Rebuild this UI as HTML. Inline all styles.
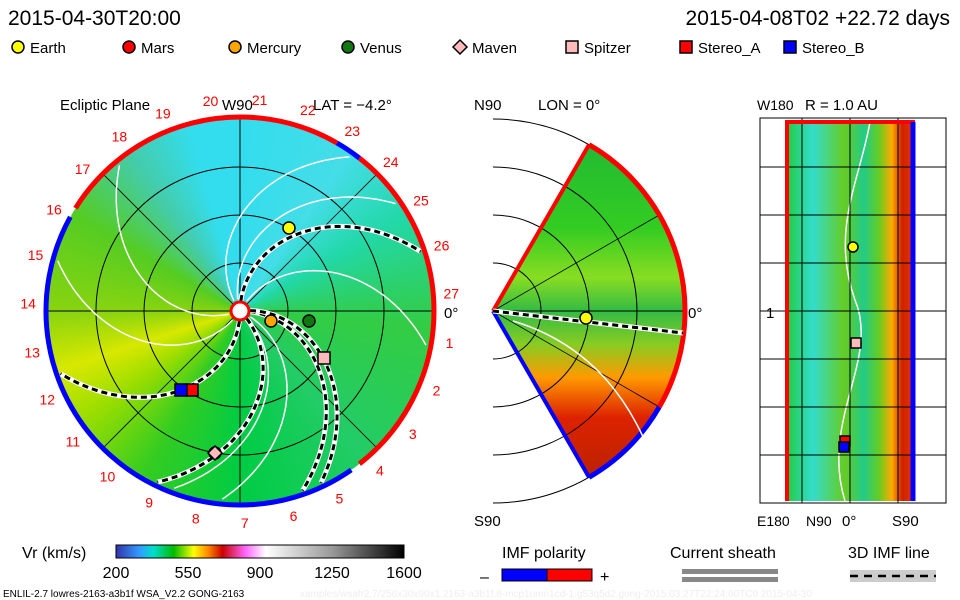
<!DOCTYPE html>
<html><head><meta charset="utf-8"><style>
body{margin:0;background:#fff;width:960px;height:600px;overflow:hidden;font-family:"Liberation Sans",sans-serif}
svg text{font-family:"Liberation Sans",sans-serif}
</style></head><body>
<div style="position:absolute;left:46px;top:117px;width:388px;height:388px;border-radius:50%;background:conic-gradient(from 0deg,#33ddee 0deg,#44dde8 35deg,#22d8a8 60deg,#33cc44 95deg,#22cc66 140deg,#00cc44 180deg,#33cc22 210deg,#99dd00 235deg,#d8e800 252deg,#88d410 270deg,#55cc22 300deg,#44ccaa 325deg,#33ddee 345deg,#33ddee 360deg)"></div>
<svg width="960" height="600" style="position:absolute;left:0;top:0">
<script>
const planetNames=["Earth","Mars","Mercury","Venus","Maven","Spitzer","Stereo_A","Stereo_B"];
const planetColors=["#ffff00","#ff0000","#ffa500","#117711","#ffbbbb","#ffbbbb","#ff0000","#0000ff"];
const planetShapes=["circle","circle","circle","circle","diamond","square","square","square"];
const eclX=[289,215,271,309,215,324,192,181];
const eclY=[228,453,321,321,453,358,390,390];
const tickLabels=["1","2","3","4","5","6","7","8","9","10","11","12","13","14","15","16","17","18","19","20","21","22","23","24","25","26","27"];
const cbTicks=["200","550","900","1250","1600"];
</script>
<text x="8" y="25" font-size="21">2015-04-30T20:00</text>
<text x="950" y="25" font-size="21" text-anchor="end">2015-04-08T02 +22.72 days</text>
<g id="legend" font-size="15"></g>
<text x="60" y="110" font-size="15">Ecliptic Plane</text>
<text x="222" y="110" font-size="15">W90</text>
<text x="313" y="110" font-size="15">LAT = −4.2°</text>
<text x="474" y="110" font-size="15">N90</text>
<text x="538" y="110" font-size="15">LON = 0°</text>
<text x="757" y="110" font-size="14">W180</text>
<text x="805" y="110" font-size="15">R = 1.0 AU</text>
<g id="ecl"></g>
<defs>
<linearGradient id="mg" x1="0" y1="0" x2="0" y2="1">
<stop offset="0" stop-color="#22bb33"/><stop offset="0.25" stop-color="#33cc22"/><stop offset="0.4" stop-color="#88dd22"/><stop offset="0.5" stop-color="#33bb44"/><stop offset="0.6" stop-color="#88cc22"/><stop offset="0.7" stop-color="#ff9900"/><stop offset="0.82" stop-color="#dd2200"/><stop offset="1" stop-color="#bb2200"/></linearGradient>
<linearGradient id="rg" x1="0" y1="0" x2="1" y2="0">
<stop offset="0" stop-color="#22cc44"/><stop offset="0.2" stop-color="#33ddcc"/><stop offset="0.45" stop-color="#66cc22"/><stop offset="0.6" stop-color="#22cc88"/><stop offset="0.72" stop-color="#66cc22"/><stop offset="0.82" stop-color="#ffaa00"/><stop offset="0.9" stop-color="#cc2200"/><stop offset="1" stop-color="#ee3300"/></linearGradient>
<linearGradient id="cb" x1="0" y1="0" x2="1" y2="0">
<stop offset="0" stop-color="#3333aa"/><stop offset="0.08" stop-color="#3399ff"/><stop offset="0.13" stop-color="#00ddcc"/><stop offset="0.2" stop-color="#00bb00"/><stop offset="0.27" stop-color="#ffff00"/><stop offset="0.32" stop-color="#ff8800"/><stop offset="0.37" stop-color="#cc0000"/><stop offset="0.45" stop-color="#ff66ff"/><stop offset="0.52" stop-color="#ffffff"/><stop offset="0.75" stop-color="#999999"/><stop offset="1" stop-color="#000000"/></linearGradient>
</defs>
<g id="mer"></g>
<text x="474" y="526" font-size="15">S90</text>
<text x="688" y="318" font-size="15">0°</text>
<g id="rp"></g>
<text x="757" y="526" font-size="14">E180</text>
<text x="806" y="526" font-size="14">N90</text>
<text x="842" y="526" font-size="15">0°</text>
<text x="892" y="526" font-size="15">S90</text>
<text x="766" y="318" font-size="15">1</text>
<text x="22" y="558" font-size="16">Vr (km/s)</text>
<rect x="116" y="545" width="288" height="13" fill="url(#cb)" stroke="#000"/>
<g id="cbt" font-size="16"></g>
<text x="502" y="558" font-size="16">IMF polarity</text>
<text x="480" y="582" font-size="16">–</text>
<rect x="502" y="569" width="45" height="12" fill="#0000ff" stroke="#000"/>
<rect x="547" y="569" width="45" height="12" fill="#ff0000" stroke="#000"/>
<text x="600" y="582" font-size="16">+</text>
<text x="670" y="558" font-size="16">Current sheath</text>
<rect x="682" y="569" width="96" height="5" fill="#888"/>
<rect x="682" y="577" width="96" height="5" fill="#888"/>
<text x="848" y="558" font-size="16">3D IMF line</text>
<rect x="850" y="570" width="86" height="12" fill="#ccc"/>
<line x1="850" y1="576" x2="936" y2="576" stroke="#000" stroke-width="2.5" stroke-dasharray="8 6"/>
<text x="3" y="597" font-size="10">ENLIL-2.7 lowres-2163-a3b1f WSA_V2.2 GONG-2163</text>
<text x="300" y="597" font-size="10" fill="#eee">xamples/wsafr2.7/256x30x90x1.2163-a3b1f.8-mcp1umn1cd-1.g53q5d2.gong-2015:03:27T22:24:00TC0    2015-04-30</text>
</svg>
<script>
const NS="http://www.w3.org/2000/svg";
function mk(p,tag,a){const e=document.createElementNS(NS,tag);for(const k in a)e.setAttribute(k,a[k]);p.appendChild(e);return e;}
function marker(p,shape,x,y,c,s){
 if(shape==="circle")return mk(p,"circle",{cx:x,cy:y,r:s,fill:c,stroke:"#000","stroke-width":1.5});
 if(shape==="square")return mk(p,"rect",{x:x-s,y:y-s,width:2*s,height:2*s,fill:c,stroke:"#000","stroke-width":1.5});
 return mk(p,"polygon",{points:`${x},${y-s-1} ${x+s+1},${y} ${x},${y+s+1} ${x-s-1},${y}`,fill:c,stroke:"#000","stroke-width":1.5});
}
const lg=document.getElementById("legend");
const lx=[18,129,235,348,460,572,686,790];
planetNames.forEach((n,i)=>{
 const m=marker(lg,planetShapes[i],lx[i],47,planetColors[i],6);
 
 
 const t=mk(lg,"text",{x:lx[i]+12,y:53});t.textContent=n;
 
 
});
const E=document.getElementById("ecl"),cx=240,cy=311,R=194;
[48,96,144].forEach(r=>mk(E,"circle",{cx,cy,r,fill:"none",stroke:"#000","stroke-width":1}));
mk(E,"line",{x1:cx-R,y1:cy,x2:cx+R,y2:cy,stroke:"#000"});
mk(E,"line",{x1:cx,y1:cy-R,x2:cx,y2:cy+R,stroke:"#000"});
const d=R*0.707;
mk(E,"line",{x1:cx-d,y1:cy-d,x2:cx+d,y2:cy+d,stroke:"#000","stroke-width":0.8});
mk(E,"line",{x1:cx-d,y1:cy+d,x2:cx+d,y2:cy-d,stroke:"#000","stroke-width":0.8});
const K=0.0065;
function spiral(a0,r0,r1){let s="";for(let r=r0;r<=r1;r+=3){const a=a0+r*K;s+=(s?"L":"M")+(cx+r*Math.cos(a)).toFixed(1)+","+(cy+r*Math.sin(a)).toFixed(1);}return s;}
const rad=x=>x*Math.PI/180;
[-125,-105,-60,125,25,40,160].forEach(a=>{const p=mk(E,"path",{d:spiral(rad(a),12,R-4),fill:"none",stroke:"#fff","stroke-width":1.5});});
[-89,90,45,0,-6].forEach(a=>{const dd=spiral(rad(a),10,R-4);mk(E,"path",{d:dd,fill:"none",stroke:"#fff","stroke-width":5});const p=mk(E,"path",{d:dd,fill:"none",stroke:"#000","stroke-width":3,"stroke-dasharray":"6 4"});});
function arc(a1,a2,col){const p1=[cx+R*Math.cos(-a1*Math.PI/180),cy+R*Math.sin(-a1*Math.PI/180)],p2=[cx+R*Math.cos(-a2*Math.PI/180),cy+R*Math.sin(-a2*Math.PI/180)];const large=(a2-a1)>180?1:0;return mk(E,"path",{d:`M${p1[0]},${p1[1]} A${R},${R} 0 ${large} 0 ${p2[0]},${p2[1]}`,fill:"none",stroke:col,"stroke-width":5});}
arc(-52,52,"#ff0000");arc(52,60,"#0000ff");arc(60,148,"#ff0000");arc(151,305,"#0000ff");
mk(E,"circle",{cx,cy,r:9,fill:"#fff",stroke:"#ff0000","stroke-width":3});
tickLabels.forEach((t,i)=>{const n=i+1;const a=(98-(n-20)*13.33)*Math.PI/180;const r=R+18;const e=mk(E,"text",{x:cx+r*Math.cos(a),y:cy-r*Math.sin(a)+5,fill:"#ff0000","font-size":14,"text-anchor":"middle"});e.textContent=t;});
const z=mk(E,"text",{x:444,y:318,"font-size":15});z.textContent="0°";
planetNames.forEach((n,i)=>{const m=marker(E,planetShapes[i],eclX[i],eclY[i],planetColors[i],6);});
const M=document.getElementById("mer"),mx=493,my=311,MR=192;
function pt(deg,r){const a=rad(deg);return [mx+r*Math.cos(a),my-r*Math.sin(a)];}
const t1=pt(60,MR),b1=pt(-60,MR);
mk(M,"path",{d:`M${mx},${my} L${t1[0]},${t1[1]} A${MR},${MR} 0 0 1 ${b1[0]},${b1[1]} Z`,fill:"url(#mg)"});
[48,96,144,192].forEach(r=>mk(M,"path",{d:`M${mx},${my-r} A${r},${r} 0 0 1 ${mx},${my+r}`,fill:"none",stroke:"#000"}));
mk(M,"line",{x1:mx,y1:my,x2:mx+MR,y2:my,stroke:"#000"});
[30,-30].forEach(a=>{const p=pt(a,MR);mk(M,"line",{x1:mx,y1:my,x2:p[0],y2:p[1],stroke:"#000","stroke-width":0.8});});
const r28=pt(-30,MR);
mk(M,"path",{d:`M${t1[0]},${t1[1]} A${MR},${MR} 0 0 1 ${r28[0]},${r28[1]}`,fill:"none",stroke:"#ff0000","stroke-width":5});
mk(M,"path",{d:`M${r28[0]},${r28[1]} A${MR},${MR} 0 0 1 ${b1[0]},${b1[1]}`,fill:"none",stroke:"#0000ff","stroke-width":5});
mk(M,"line",{x1:mx,y1:my,x2:t1[0],y2:t1[1],stroke:"#ff0000","stroke-width":4});
mk(M,"line",{x1:mx,y1:my,x2:b1[0],y2:b1[1],stroke:"#0000ff","stroke-width":4});
mk(M,"path",{d:`M${mx},${my} L${mx+190},${my+22}`,stroke:"#fff","stroke-width":5,fill:"none"});
mk(M,"path",{d:`M${mx},${my} L${mx+190},${my+22}`,stroke:"#000","stroke-width":3,"stroke-dasharray":"6 4",fill:"none"});
mk(M,"path",{d:`M${mx+20},${my+10} Q${mx+120},${my+40} ${mx+160},${my+150}`,stroke:"#fff","stroke-width":1.5,fill:"none"});
const me=marker(M,"circle",586,318,"#ffff00",6);


const P=document.getElementById("rp");
mk(P,"rect",{x:787,y:122,width:128,height:379,fill:"url(#rg)"});
mk(P,"path",{d:"M870,122 C860,180 830,230 855,300 C880,360 820,420 845,501",stroke:"#fff","stroke-width":1.5,fill:"none"});
mk(P,"rect",{x:760,y:118,width:186,height:385,fill:"none",stroke:"#000"});
[167,215,263,311,359,407,455].forEach(y=>mk(P,"line",{x1:760,y1:y,x2:946,y2:y,stroke:"#000"}));
[802,850,898].forEach(x=>mk(P,"line",{x1:x,y1:118,x2:x,y2:503,stroke:"#000"}));
mk(P,"path",{d:"M787,501 L787,122 L915,122",stroke:"#ff0000","stroke-width":4,fill:"none"});
mk(P,"line",{x1:913,y1:122,x2:913,y2:501,stroke:"#0000ff","stroke-width":5});
const rpX=[853,856,845,844],rpY=[247,343,441,447],rpI=[0,5,6,7];
rpI.forEach((pi,k)=>{const m=marker(P,planetShapes[pi],rpX[k],rpY[k],planetColors[pi],5);});
const C=document.getElementById("cbt");
cbTicks.forEach((t,i)=>{const e=mk(C,"text",{x:116+i*72,y:578,"text-anchor":"middle"});e.textContent=t;});
</script>
</body></html>
